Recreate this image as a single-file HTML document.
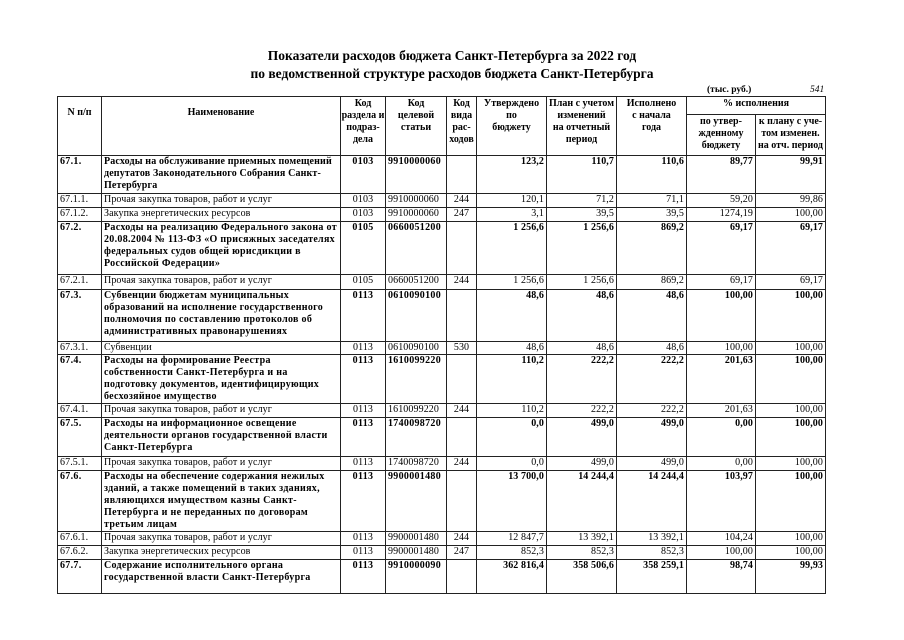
<!DOCTYPE html>
<html><head><meta charset="utf-8"><style>
body{margin:0;width:904px;height:640px;background:#fff;font-family:"Liberation Serif",serif;color:#000;position:relative;overflow:hidden}
.t1{position:absolute;top:48px;left:0;width:904px;text-align:center;font-weight:bold;font-size:13.5px}
.t2{position:absolute;top:66px;left:0;width:904px;text-align:center;font-weight:bold;font-size:13.5px}
.unit{position:absolute;top:85px;left:707px;font-size:9.5px;font-weight:bold}
.pg{position:absolute;top:85px;left:810px;font-size:9.5px;font-style:italic}
table{position:absolute;left:57px;top:96px;width:768px;border-collapse:collapse;table-layout:fixed;font-size:10px;line-height:12px;letter-spacing:0.1px}
td{border:1px solid #222;padding:0 2px;vertical-align:top;overflow:hidden;white-space:nowrap}
.h td{text-align:center;font-weight:bold;vertical-align:top;padding:1px 0 0 0;letter-spacing:0}
td.n{text-align:right}
td.c{text-align:center}
td.w{white-space:nowrap;padding-right:0}
tr.b td{font-weight:bold;letter-spacing:0.3px}
tr.b td.n{letter-spacing:0.1px}
</style></head><body>
<div class="t1">Показатели расходов бюджета Санкт-Петербурга за 2022 год</div>
<div class="t2">по ведомственной структуре расходов бюджета Санкт-Петербурга</div>
<div class="unit">(тыс. руб.)</div><div class="pg">541</div>
<table>
<colgroup><col style="width:44px"><col style="width:239px"><col style="width:45px"><col style="width:61px"><col style="width:30px"><col style="width:70px"><col style="width:70px"><col style="width:70px"><col style="width:69px"><col style="width:70px"></colgroup>
<tr class="h" style="height:18px"><td rowspan="2" style="vertical-align:top;padding-top:10px">N п/п</td><td rowspan="2" style="padding-top:10px">Наименование</td><td rowspan="2">Код<br>раздела и<br>подраз-<br>дела</td><td rowspan="2">Код<br>целевой<br>статьи</td><td rowspan="2">Код<br>вида<br>рас-<br>ходов</td><td rowspan="2">Утверждено<br>по<br>бюджету</td><td rowspan="2">План с учетом<br>изменений<br>на отчетный<br>период</td><td rowspan="2">Исполнено<br>с начала<br>года</td><td colspan="2">% исполнения</td></tr>
<tr class="h" style="height:41px"><td>по утвер-<br>жденному<br>бюджету</td><td>к плану с уче-<br>том изменен.<br>на отч. период</td></tr>
<tr class="b" style="height:38px"><td>67.1.</td><td class="w" style="letter-spacing:0.15px">Расходы на обслуживание приемных помещений<br>депутатов Законодательного Собрания Санкт-<br>Петербурга</td><td class="c">0103</td><td>9910000060</td><td></td><td class="n">123,2</td><td class="n">110,7</td><td class="n">110,6</td><td class="n">89,77</td><td class="n">99,91</td></tr>
<tr style="height:14px"><td>67.1.1.</td><td>Прочая закупка товаров, работ и услуг</td><td class="c">0103</td><td>9910000060</td><td class="c">244</td><td class="n">120,1</td><td class="n">71,2</td><td class="n">71,1</td><td class="n">59,20</td><td class="n">99,86</td></tr>
<tr style="height:14px"><td>67.1.2.</td><td>Закупка энергетических ресурсов</td><td class="c">0103</td><td>9910000060</td><td class="c">247</td><td class="n">3,1</td><td class="n">39,5</td><td class="n">39,5</td><td class="n">1274,19</td><td class="n">100,00</td></tr>
<tr class="b" style="height:53px"><td>67.2.</td><td class="w">Расходы на реализацию Федерального закона от<br>20.08.2004 № 113-ФЗ «О присяжных заседателях<br>федеральных судов общей юрисдикции в<br>Российской Федерации»</td><td class="c">0105</td><td>0660051200</td><td></td><td class="n">1 256,6</td><td class="n">1 256,6</td><td class="n">869,2</td><td class="n">69,17</td><td class="n">69,17</td></tr>
<tr style="height:15px"><td>67.2.1.</td><td>Прочая закупка товаров, работ и услуг</td><td class="c">0105</td><td>0660051200</td><td class="c">244</td><td class="n">1 256,6</td><td class="n">1 256,6</td><td class="n">869,2</td><td class="n">69,17</td><td class="n">69,17</td></tr>
<tr class="b" style="height:52px"><td>67.3.</td><td class="w">Субвенции бюджетам муниципальных<br>образований на исполнение государственного<br>полномочия по составлению протоколов об<br>административных правонарушениях</td><td class="c">0113</td><td>0610090100</td><td></td><td class="n">48,6</td><td class="n">48,6</td><td class="n">48,6</td><td class="n">100,00</td><td class="n">100,00</td></tr>
<tr style="height:13px"><td>67.3.1.</td><td>Субвенции</td><td class="c">0113</td><td>0610090100</td><td class="c">530</td><td class="n">48,6</td><td class="n">48,6</td><td class="n">48,6</td><td class="n">100,00</td><td class="n">100,00</td></tr>
<tr class="b" style="height:49px"><td>67.4.</td><td class="w">Расходы на формирование Реестра<br>собственности Санкт-Петербурга и на<br>подготовку документов, идентифицирующих<br>бесхозяйное имущество</td><td class="c">0113</td><td>1610099220</td><td></td><td class="n">110,2</td><td class="n">222,2</td><td class="n">222,2</td><td class="n">201,63</td><td class="n">100,00</td></tr>
<tr style="height:14px"><td>67.4.1.</td><td>Прочая закупка товаров, работ и услуг</td><td class="c">0113</td><td>1610099220</td><td class="c">244</td><td class="n">110,2</td><td class="n">222,2</td><td class="n">222,2</td><td class="n">201,63</td><td class="n">100,00</td></tr>
<tr class="b" style="height:39px"><td>67.5.</td><td class="w">Расходы на информационное освещение<br>деятельности органов государственной власти<br>Санкт-Петербурга</td><td class="c">0113</td><td>1740098720</td><td></td><td class="n">0,0</td><td class="n">499,0</td><td class="n">499,0</td><td class="n">0,00</td><td class="n">100,00</td></tr>
<tr style="height:14px"><td>67.5.1.</td><td>Прочая закупка товаров, работ и услуг</td><td class="c">0113</td><td>1740098720</td><td class="c">244</td><td class="n">0,0</td><td class="n">499,0</td><td class="n">499,0</td><td class="n">0,00</td><td class="n">100,00</td></tr>
<tr class="b" style="height:61px"><td>67.6.</td><td class="w">Расходы на обеспечение содержания нежилых<br>зданий, а также помещений в таких зданиях,<br>являющихся имуществом казны Санкт-<br>Петербурга и не переданных по договорам<br>третьим лицам</td><td class="c">0113</td><td>9900001480</td><td></td><td class="n">13 700,0</td><td class="n">14 244,4</td><td class="n">14 244,4</td><td class="n">103,97</td><td class="n">100,00</td></tr>
<tr style="height:14px"><td>67.6.1.</td><td>Прочая закупка товаров, работ и услуг</td><td class="c">0113</td><td>9900001480</td><td class="c">244</td><td class="n">12 847,7</td><td class="n">13 392,1</td><td class="n">13 392,1</td><td class="n">104,24</td><td class="n">100,00</td></tr>
<tr style="height:14px"><td>67.6.2.</td><td>Закупка энергетических ресурсов</td><td class="c">0113</td><td>9900001480</td><td class="c">247</td><td class="n">852,3</td><td class="n">852,3</td><td class="n">852,3</td><td class="n">100,00</td><td class="n">100,00</td></tr>
<tr class="b" style="height:34px"><td>67.7.</td><td class="w">Содержание исполнительного органа<br>государственной власти Санкт-Петербурга</td><td class="c">0113</td><td>9910000090</td><td></td><td class="n">362 816,4</td><td class="n">358 506,6</td><td class="n">358 259,1</td><td class="n">98,74</td><td class="n">99,93</td></tr>
</table>
</body></html>
